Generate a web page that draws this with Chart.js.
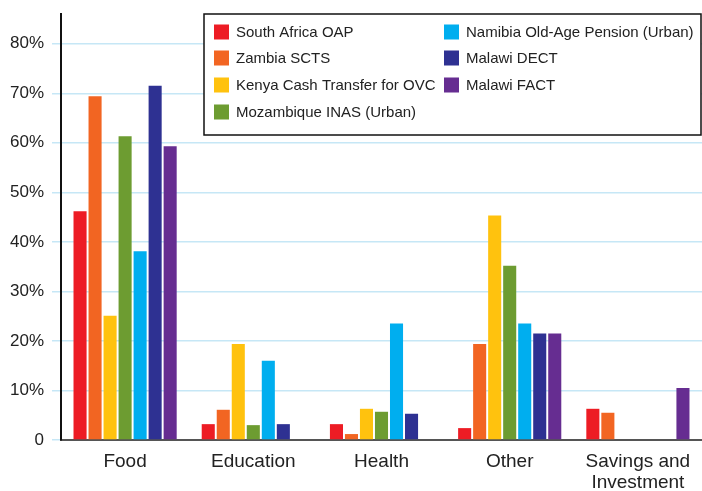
<!DOCTYPE html>
<html>
<head>
<meta charset="utf-8">
<script src="https://cdn.jsdelivr.net/npm/chart.js@4/dist/chart.umd.min.js"></script>
<style>
    html, body { margin: 0; padding: 0; background: #fff; }
    #wrap { width: 702px; height: 491px; position: relative; }
</style>
</head>
<body>
<div id="wrap"><canvas id="chart"></canvas></div>
<script>
// categories and series (percent of spending)
const categories = ['Food', 'Education', 'Health', 'Other', ['Savings and', 'Investment']];
const seriesNames = [
    'South Africa OAP',
    'Zambia SCTS',
    'Kenya Cash Transfer for OVC',
    'Mozambique INAS (Urban)',
    'Namibia Old-Age Pension (Urban)',
    'Malawi DECT',
    'Malawi FACT'
];
const southAfricaOAP = [46.2, 3.2, 3.2, 2.4, 6.3];
const zambiaSCTS = [69.4, 6.1, 1.2, 19.4, 5.5];
const kenyaOVC = [25.1, 19.4, 6.3, 45.3, 0];
const mozambiqueINAS = [61.3, 3.0, 5.7, 35.2, 0];
const namibiaOAP = [38.1, 16.0, 23.5, 23.5, 0];
const malawiDECT = [71.5, 3.2, 5.3, 21.5, 0];
const malawiFACT = [59.3, 0, 0, 21.5, 10.5];
const yTicks = [0, 10, 20, 30, 40, 50, 60, 70, 80];

const seriesValues = [southAfricaOAP, zambiaSCTS, kenyaOVC, mozambiqueINAS, namibiaOAP, malawiDECT, malawiFACT];
const seriesColors = ['#ED1C24', '#F26522', '#FFC20E', '#6D9C31', '#00AEEF', '#2E3192', '#662D91'];

/**
 * Two-column boxed legend drawn on the canvas
 */
const boxLegend = {
    id: 'boxLegend',
    afterDraw(chart) {
        const ctx = chart.ctx;
        const x0 = 204, y0 = 14, w = 497, h = 121;
        ctx.save();
        ctx.fillStyle = '#fff';
        ctx.fillRect(x0, y0, w, h);
        ctx.strokeStyle = '#111';
        ctx.lineWidth = 1.5;
        ctx.strokeRect(x0, y0, w, h);
        ctx.font = '15px "Liberation Sans", Arial, sans-serif';
        ctx.textBaseline = 'middle';
        const rowY = [32, 58, 85, 112];
        chart.data.datasets.forEach((ds, i) => {
            const col = i < 4 ? 0 : 1;
            const row = i < 4 ? i : i - 4;
            const bx = col === 0 ? 214 : 444;
            const cy = rowY[row];
            ctx.fillStyle = ds.backgroundColor;
            ctx.fillRect(bx, cy - 7.5, 15, 15);
            ctx.fillStyle = '#222';
            ctx.fillText(ds.label, bx + 22, cy + 1);
        });
        ctx.restore();
    }
};

const ctx = document.getElementById('chart').getContext('2d');

new Chart(ctx, {
    type: 'bar',
    data: {
        labels: categories,
        datasets: seriesNames.map((name, i) => ({
            label: name,
            data: seriesValues[i],
            backgroundColor: seriesColors[i],
            borderWidth: 0,
            categoryPercentage: 0.82,
            barPercentage: 0.87
        }))
    },
    options: {
        responsive: true,
        maintainAspectRatio: false,
        animation: false,
        layout: {
            padding: { top: 14, right: 0, left: 0, bottom: 0 }
        },
        plugins: {
            legend: { display: false },
            tooltip: { enabled: false }
        },
        scales: {
            x: {
                grid: { display: false },
                border: { color: '#555', width: 2 },
                ticks: {
                    color: '#222',
                    font: { family: '"Liberation Sans", Arial, sans-serif', size: 19, lineHeight: 1.1 },
                    padding: 3,
                    maxRotation: 0,
                    autoSkip: false
                },
                afterFit(scale) {
                    scale.height = 51;
                    scale.paddingLeft = 0;
                    scale.paddingRight = 0;
                }
            },
            y: {
                min: 0,
                max: 86,
                grid: {
                    color: '#C6E7F6',
                    lineWidth: 1.5,
                    tickLength: 9
                },
                border: { color: '#111', width: 2 },
                ticks: {
                    stepSize: 10,
                    color: '#222',
                    padding: 8,
                    font: { family: '"Liberation Sans", Arial, sans-serif', size: 17 },
                    callback: (v) => v === 0 ? '0' : v + '%'
                },
                afterBuildTicks(scale) {
                    scale.ticks = yTicks.map(v => ({ value: v }));
                },
                afterFit(scale) {
                    scale.width = 61;
                    scale.paddingTop = 0;
                    scale.paddingBottom = 0;
                }
            }
        }
    },
    plugins: [boxLegend]
});
</script>
</body>
</html>
